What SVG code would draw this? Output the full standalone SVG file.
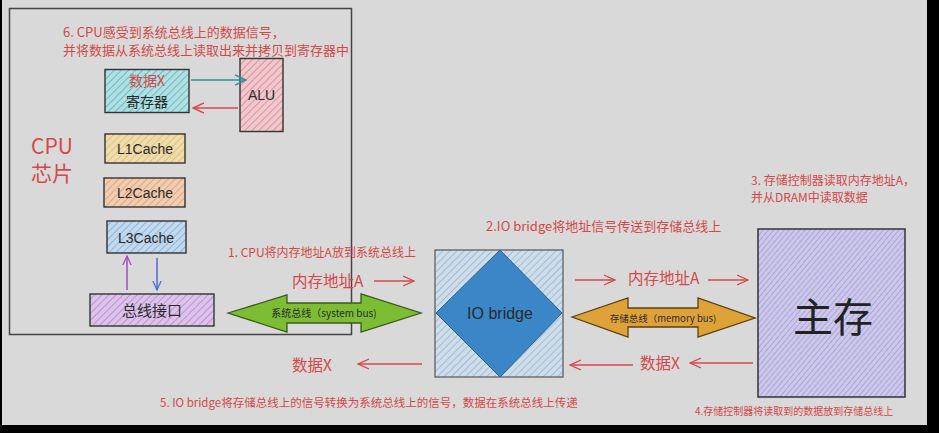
<svg xmlns="http://www.w3.org/2000/svg" width="939" height="433" viewBox="0 0 939 433">
<defs>
<style>
.red{fill:#d64848;font-family:"Noto Sans CJK SC","Liberation Sans",sans-serif}
.dark{fill:#2a2a2a;font-family:"Liberation Sans","Noto Sans CJK SC",sans-serif}
.box{stroke:#333;stroke-width:1.4}
.rl{stroke:#d64848;stroke-width:1.3;fill:none}
</style>
<pattern id="pReg" width="5" height="5" patternUnits="userSpaceOnUse" patternTransform="rotate(45)"><rect width="5" height="5" fill="#b2e0e2"/><line x1="0" y1="0" x2="0" y2="5" stroke="#58b4be" stroke-width="1.6"/></pattern>
<pattern id="pAlu" width="5" height="5" patternUnits="userSpaceOnUse" patternTransform="rotate(45)"><rect width="5" height="5" fill="#eec8cc"/><line x1="0" y1="0" x2="0" y2="5" stroke="#e07a88" stroke-width="1.4"/></pattern>
<pattern id="pL1" width="5" height="5" patternUnits="userSpaceOnUse" patternTransform="rotate(45)"><rect width="5" height="5" fill="#eedcb0"/><line x1="0" y1="0" x2="0" y2="5" stroke="#e2b850" stroke-width="1.4"/></pattern>
<pattern id="pL2" width="5" height="5" patternUnits="userSpaceOnUse" patternTransform="rotate(45)"><rect width="5" height="5" fill="#eecdb4"/><line x1="0" y1="0" x2="0" y2="5" stroke="#e4965a" stroke-width="1.4"/></pattern>
<pattern id="pL3" width="5" height="5" patternUnits="userSpaceOnUse" patternTransform="rotate(45)"><rect width="5" height="5" fill="#c2d8ec"/><line x1="0" y1="0" x2="0" y2="5" stroke="#74a8dc" stroke-width="1.4"/></pattern>
<pattern id="pBus" width="5" height="5" patternUnits="userSpaceOnUse" patternTransform="rotate(45)"><rect width="5" height="5" fill="#dcc4e8"/><line x1="0" y1="0" x2="0" y2="5" stroke="#b47ad4" stroke-width="1.4"/></pattern>
<pattern id="pIo" width="5" height="5" patternUnits="userSpaceOnUse" patternTransform="rotate(45)"><rect width="5" height="5" fill="#cfdde8"/><line x1="0" y1="0" x2="0" y2="5" stroke="#86aed0" stroke-width="1.3"/></pattern>
<pattern id="pMem" width="4" height="4" patternUnits="userSpaceOnUse" patternTransform="rotate(40)"><rect width="4" height="4" fill="#ccc8e8"/><line x1="0" y1="0" x2="0" y2="4" stroke="#9a8ce0" stroke-width="1.2"/></pattern>
<marker id="mRed" viewBox="0 0 12 12" refX="11" refY="6" markerWidth="12" markerHeight="12" markerUnits="userSpaceOnUse" orient="auto"><path d="M0,1 L11,6 L0,11" fill="none" stroke="#d64848" stroke-width="1.3"/></marker>
<marker id="mTeal" viewBox="0 0 12 12" refX="11" refY="6" markerWidth="12" markerHeight="12" markerUnits="userSpaceOnUse" orient="auto"><path d="M0,1 L11,6 L0,11" fill="none" stroke="#2f8f9a" stroke-width="1.5"/></marker>
<marker id="mRed2" viewBox="0 0 12 12" refX="11" refY="6" markerWidth="12" markerHeight="12" markerUnits="userSpaceOnUse" orient="auto"><path d="M0,1 L11,6 L0,11" fill="none" stroke="#d64848" stroke-width="1.5"/></marker>
<marker id="mPur" viewBox="0 0 12 12" refX="11" refY="6" markerWidth="10" markerHeight="10" markerUnits="userSpaceOnUse" orient="auto"><path d="M0,1 L11,6 L0,11" fill="none" stroke="#a04cc0" stroke-width="1.5"/></marker>
<marker id="mBlue" viewBox="0 0 12 12" refX="11" refY="6" markerWidth="10" markerHeight="10" markerUnits="userSpaceOnUse" orient="auto"><path d="M0,1 L11,6 L0,11" fill="none" stroke="#4a6ad0" stroke-width="1.5"/></marker>
</defs>

<rect x="0" y="0" width="939" height="433" fill="#000"/>
<rect x="2" y="0" width="925" height="425" fill="#d9d9d9"/>

<g id="cpu-chip">
<rect x="9.5" y="8.5" width="342" height="326" fill="none" stroke="#444" stroke-width="1.5"/>
<text class="red" x="31" y="154" font-size="21">CPU</text>
<text class="red" x="31" y="181" font-size="21">芯片</text>
<text class="red" x="63" y="37" font-size="13">6. CPU感受到系统总线上的数据信号，</text>
<text class="red" x="63" y="55" font-size="13">并将数据从系统总线上读取出来并拷贝到寄存器中</text>
</g>

<g id="register">
<rect class="box" x="105" y="69.5" width="84" height="43" fill="url(#pReg)"/>
<text class="red" x="147" y="86" font-size="14" text-anchor="middle">数据X</text>
<text class="dark" x="147" y="107" font-size="14" text-anchor="middle" style="font-family:'Noto Sans CJK SC',sans-serif">寄存器</text>
</g>

<g id="alu">
<rect class="box" x="240" y="58.5" width="43" height="73" fill="url(#pAlu)"/>
<text class="dark" x="261.5" y="100" font-size="14" text-anchor="middle">ALU</text>
</g>

<g id="l1cache">
<rect class="box" x="105" y="134" width="80" height="29" fill="url(#pL1)"/>
<text class="dark" x="145" y="154" font-size="14" text-anchor="middle">L1Cache</text>
</g>
<g id="l2cache">
<rect class="box" x="104" y="178" width="81" height="29" fill="url(#pL2)"/>
<text class="dark" x="145" y="198" font-size="14" text-anchor="middle">L2Cache</text>
</g>
<g id="l3cache">
<rect class="box" x="107" y="221" width="79" height="32" fill="url(#pL3)"/>
<text class="dark" x="146" y="243" font-size="14" text-anchor="middle">L3Cache</text>
</g>
<g id="bus-interface">
<rect class="box" x="90" y="294" width="124" height="32" fill="url(#pBus)"/>
<text class="dark" x="152" y="316" font-size="15" text-anchor="middle" style="font-family:'Noto Sans CJK SC',sans-serif">总线接口</text>
</g>

<g id="io-bridge">
<rect x="435" y="250" width="128" height="127" fill="url(#pIo)" stroke="#555" stroke-width="1.2"/>
<polygon points="500,250 562,313 500,377 436,313" fill="#3a86c6" stroke="#2a5f90" stroke-width="1"/>
<text class="dark" x="500" y="319" font-size="16" text-anchor="middle">IO bridge</text>
</g>

<g id="main-memory">
<rect x="758" y="229" width="147" height="168" fill="url(#pMem)" stroke="#333" stroke-width="1.5"/>
<text x="833" y="332" font-size="40" text-anchor="middle" fill="#222" font-family="'Noto Sans CJK SC',sans-serif">主存</text>
</g>

<g id="system-bus">
<polygon points="228,313 287,295 287,303 361,303 361,294 421,313 361,332 361,323 287,323 287,332" fill="#7cbd34" stroke="#3c5a1a" stroke-width="1.3"/>
<text x="324" y="317" font-size="10" text-anchor="middle" fill="#2a2a2a" font-family="'Noto Sans CJK SC','Liberation Sans',sans-serif">系统总线（system bus)</text>
</g>

<g id="memory-bus">
<polygon points="572,317 628,298 628,308 698,308 698,298 755,318 698,337 698,327 628,327 628,337" fill="#dea238" stroke="#5a4010" stroke-width="1.3"/>
<text x="663" y="322" font-size="9.5" text-anchor="middle" fill="#2a2a2a" font-family="'Noto Sans CJK SC','Liberation Sans',sans-serif">存储总线（memory bus)</text>
</g>

<g id="labels">
<text class="red" x="228" y="257" font-size="12">1. CPU将内存地址A放到系统总线上</text>
<text class="red" x="292" y="287" font-size="15.5">内存地址A</text>
<text class="red" x="292" y="371" font-size="15.5">数据X</text>
<text class="red" x="160" y="407" font-size="11.5">5. IO bridge将存储总线上的信号转换为系统总线上的信号，数据在系统总线上传递</text>
<text class="red" x="486" y="231" font-size="13">2.IO bridge将地址信号传送到存储总线上</text>
<text class="red" x="628" y="284" font-size="15.5">内存地址A</text>
<text class="red" x="640" y="369" font-size="15.5">数据X</text>
<text class="red" x="751" y="185" font-size="12">3. 存储控制器读取内存地址A，</text>
<text class="red" x="751" y="202" font-size="12">并从DRAM中读取数据</text>
<text class="red" x="695" y="415" font-size="10">4.存储控制器将读取到的数据放到存储总线上</text>
</g>

<g id="connectors">
<line x1="191" y1="80" x2="246" y2="80" stroke="#2f8f9a" stroke-width="1.5" marker-end="url(#mTeal)"/>
<line x1="238" y1="108" x2="193" y2="108" stroke="#d64848" stroke-width="1.5" marker-end="url(#mRed2)"/>
<line x1="127" y1="290" x2="127" y2="256" stroke="#a04cc0" stroke-width="1.5" marker-end="url(#mPur)"/>
<line x1="157" y1="258" x2="157" y2="290" stroke="#4a6ad0" stroke-width="1.5" marker-end="url(#mBlue)"/>
<line class="rl" x1="374" y1="281" x2="414" y2="281" marker-end="url(#mRed)"/>
<line class="rl" x1="422" y1="364" x2="358" y2="364" marker-end="url(#mRed)"/>
<line class="rl" x1="575" y1="280" x2="615" y2="280" marker-end="url(#mRed)"/>
<line class="rl" x1="708" y1="280" x2="748" y2="280" marker-end="url(#mRed)"/>
<line class="rl" x1="633" y1="365" x2="570" y2="365" marker-end="url(#mRed)"/>
<line class="rl" x1="753" y1="363" x2="690" y2="363" marker-end="url(#mRed)"/>
</g>
</svg>
